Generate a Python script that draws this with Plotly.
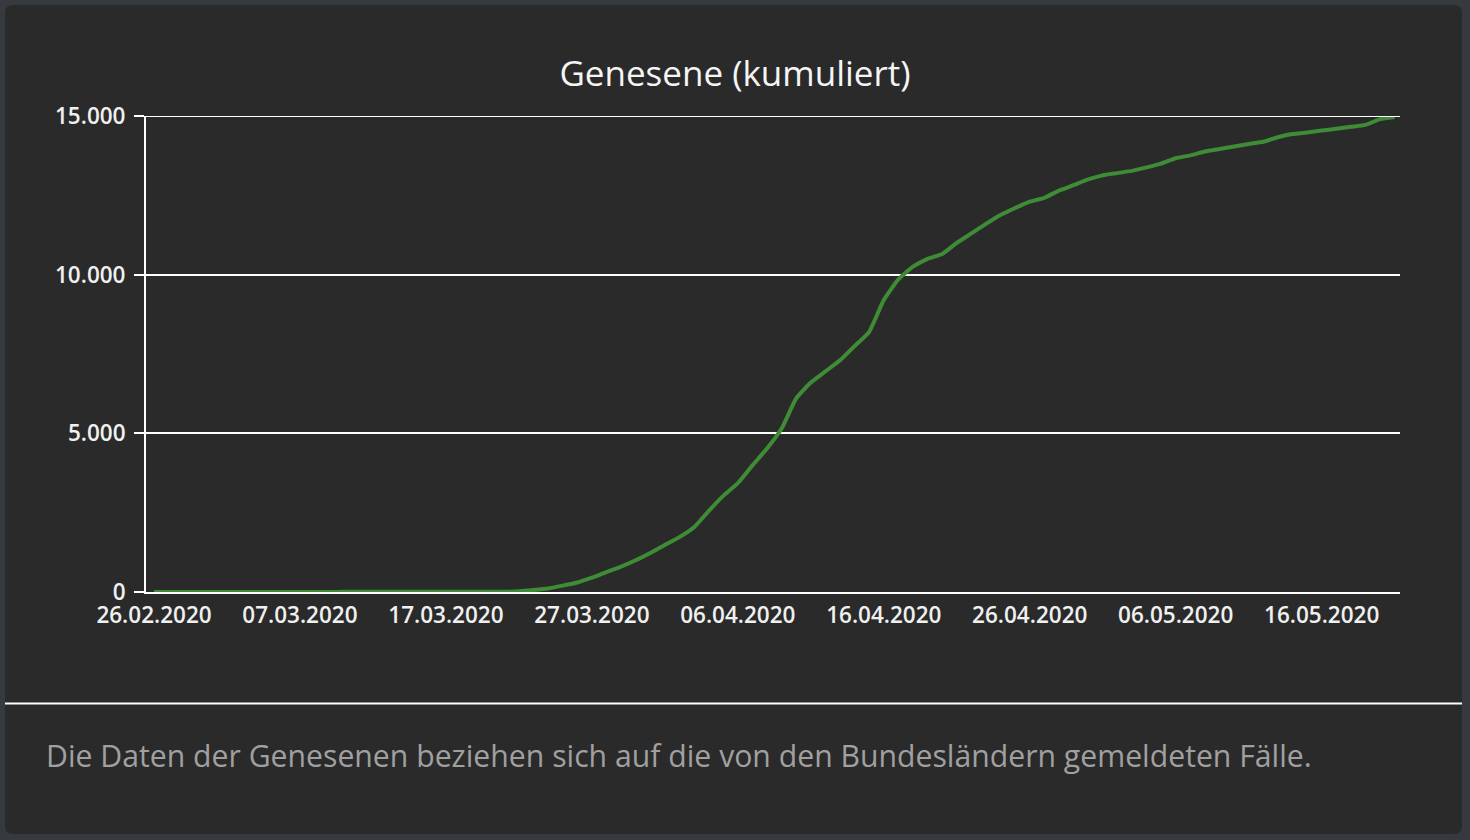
import pandas as pd
import plotly.graph_objects as go

# Kumulierte Genesene, täglich ab 26.02.2020
start_date = "2020-02-26"
recovered = [
    0, 0, 0, 0, 0, 0, 2, 2, 2, 2,
    2, 2, 2, 4, 4, 6, 6, 6, 6, 8,
    9, 9, 9, 9, 9, 20, 60, 110, 200, 300,
    450, 630, 800, 1000, 1230, 1480, 1730, 2040, 2550, 3030,
    3430, 3990, 4520, 5150, 6100, 6600, 6950, 7300, 7750, 8200,
    9200, 9850, 10250, 10500, 10650, 11000, 11300, 11600, 11880, 12100,
    12300, 12420, 12650, 12820, 13000, 13130, 13200, 13270, 13380, 13500,
    13670, 13760, 13880, 13960, 14040, 14120, 14190, 14330, 14430, 14480,
    14540, 14600, 14660, 14720, 14900, 14970,
]
dates = pd.date_range(start_date, periods=len(recovered), freq="D")

title_text = "Genesene (kumuliert)"
footer_text = "Die Daten der Genesenen beziehen sich auf die von den Bundesländern gemeldeten Fälle."
y_ticks = [0, 5000, 10000, 15000]

W, H = 1470, 840
L, R, T, B = 146, 1400, 116, 592  # plot area in px


def px(xp):
    return (xp - L) / (R - L)


def py(yp):
    return (B - yp) / (B - T)


card_bg = "#2a2a2a"
outer_bg = "#363a3f"
FONT = "Open Sans, Noto Sans, sans-serif"
DAY10 = 10 * 24 * 3600 * 1000

fig = go.Figure()
fig.add_trace(go.Scatter(
    x=dates, y=recovered, mode="lines",
    line=dict(color="#3e8c35", width=4, shape="spline", smoothing=0.5),
    hoverinfo="x+y", showlegend=False,
))

# rounded card
x0, x1, y0, y1 = px(5), px(1462), py(834), py(5)
rx, ry = 8 / (R - L), 8 / (B - T)
card_path = (
    f"M {x0+rx},{y0} L {x1-rx},{y0} Q {x1},{y0} {x1},{y0+ry} "
    f"L {x1},{y1-ry} Q {x1},{y1} {x1-rx},{y1} "
    f"L {x0+rx},{y1} Q {x0},{y1} {x0},{y1-ry} "
    f"L {x0},{y0+ry} Q {x0},{y0} {x0+rx},{y0} Z"
)

fig.update_layout(
    width=W, height=H,
    margin=dict(l=L, r=W - R, t=T, b=H - B),
    paper_bgcolor=outer_bg,
    plot_bgcolor=card_bg,
    separators=",.",
    title=dict(
        text=title_text, x=0.5, xref="container", xanchor="center",
        y=1 - 74 / H, yref="container", yanchor="middle",
        font=dict(family=FONT, size=35, color="#f5f5f5"),
    ),
    shapes=[
        dict(type="path", path=card_path, xref="paper", yref="paper",
             fillcolor=card_bg, line=dict(width=0), layer="below"),
        dict(type="line", xref="paper", yref="paper",
             x0=px(5), x1=px(1462), y0=py(703.5), y1=py(703.5),
             line=dict(color="#ffffff", width=2)),
        # top gridline (at range edge)
        dict(type="line", xref="paper", yref="y",
             x0=0, x1=1, y0=y_ticks[-1], y1=y_ticks[-1],
             line=dict(color="#ffffff", width=2)),
    ],
    annotations=[
        dict(text=footer_text, xref="paper", yref="paper",
             x=px(44), y=py(755), xanchor="left", yanchor="middle",
             showarrow=False,
             font=dict(family=FONT, size=30.2, color="#a0a0a0")),
    ],
    xaxis=dict(
        type="date",
        range=["2020-02-25 10:50", "2020-05-21 08:50"],
        tick0=start_date, dtick=DAY10,
        tickformat="%d.%m.%Y",
        showgrid=False, zeroline=False,
        showline=True, linecolor="#ffffff", linewidth=2,
        ticks="outside", ticklen=0, tickwidth=2, tickcolor="#ffffff",
        minor=dict(tick0=start_date, dtick=DAY10, ticks="outside", ticklen=8,
                   tickwidth=2, tickcolor="#ffffff", showgrid=False),
        ticklabelstandoff=2,
        tickfont=dict(family=FONT, size=22.5, color="#f0f0f0", weight=600),
    ),
    yaxis=dict(
        range=[0, 15000], tickvals=y_ticks, tickformat=",d",
        showgrid=True, gridcolor="#ffffff", gridwidth=2,
        zeroline=False,
        showline=True, linecolor="#ffffff", linewidth=2,
        ticks="outside", ticklen=10, tickwidth=2, tickcolor="#ffffff",
        ticklabelstandoff=4,
        tickfont=dict(family=FONT, size=22.5, color="#f0f0f0", weight=600),
    ),
)

fig.write_html("out.html")
